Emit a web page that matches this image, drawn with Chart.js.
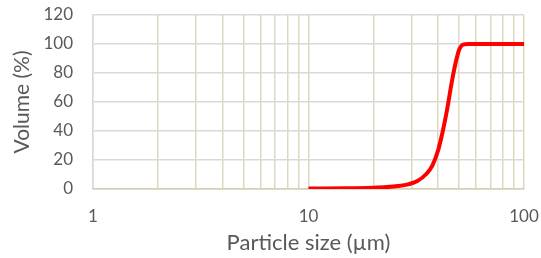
<!DOCTYPE html>
<html lang="en">
<head>
<meta charset="UTF-8">
<title>Particle size distribution</title>
<script src="https://cdn.jsdelivr.net/npm/chart.js@4"></script>
<style>
    body { margin: 0; background: #fff; }
    .wrap { width: 541px; height: 258px; }
</style>
</head>
<body>
<div class="wrap"><canvas id="psd" width="541" height="258"></canvas></div>
<script>
    const sizes = [10, 15, 20, 23, 26, 29, 32, 35, 37.5, 40, 42, 44, 46, 48, 50, 52, 55, 60, 100];
    const volume = [0.3, 0.5, 0.9, 1.3, 2.0, 3.2, 5.5, 10, 16, 27, 40, 55, 72, 86, 96, 99.5, 100, 100, 100];
    const xTicks = [1, 2, 3, 4, 5, 6, 7, 8, 9, 10, 20, 30, 40, 50, 60, 70, 80, 90, 100];
    const xLabels = [1, 10, 100];

    const font = "Lato, 'Open Sans', sans-serif";
    const textColor = '#595959';

    new Chart(document.getElementById('psd'), {
        type: 'line',
        data: {
            datasets: [{
                data: sizes.map((s, i) => ({ x: s, y: volume[i] })),
                borderColor: '#ff0000',
                borderWidth: 4,
                pointRadius: 0,
                cubicInterpolationMode: 'monotone',
                fill: false
            }]
        },
        options: {
            responsive: false,
            animation: false,
            layout: { padding: { left: 10, right: 0, top: 0, bottom: 2 } },
            plugins: { legend: { display: false }, tooltip: { enabled: false } },
            scales: {
                x: {
                    type: 'logarithmic',
                    min: 1,
                    max: 100,
                    afterBuildTicks: axis => { axis.ticks = xTicks.map(v => ({ value: v })); },
                    // fix the plot box to the reference frame
                    afterFit: axis => { axis.height = 67; axis.paddingRight = 17; },
                    ticks: {
                        autoSkip: false,
                        maxRotation: 0,
                        color: textColor,
                        font: { family: font, size: 17 },
                        padding: 17,
                        callback: v => xLabels.includes(v) ? String(v) : ''
                    },
                    grid: { color: '#ddd8c0', lineWidth: 1.5, drawTicks: false },
                    border: { color: '#d5cfb0', width: 1.5 },
                    title: {
                        display: true,
                        text: 'Particle size (\u00b5m)',
                        color: textColor,
                        font: { family: font, size: 22 },
                        padding: { top: 0, bottom: 0 }
                    }
                },
                y: {
                    min: 0,
                    max: 120,
                    afterFit: axis => { axis.width = 83; axis.paddingTop = 15; },
                    ticks: {
                        stepSize: 20,
                        color: textColor,
                        font: { family: font, size: 17 },
                        padding: 20
                    },
                    grid: { color: '#d9d9d9', lineWidth: 1.5, drawTicks: false },
                    border: { color: '#d9d9d9', width: 1.5 },
                    title: {
                        display: true,
                        text: 'Volume (%)',
                        color: textColor,
                        font: { family: font, size: 21 },
                        padding: { top: 0, bottom: 0 }
                    }
                }
            }
        }
    });
</script>
</body>
</html>
